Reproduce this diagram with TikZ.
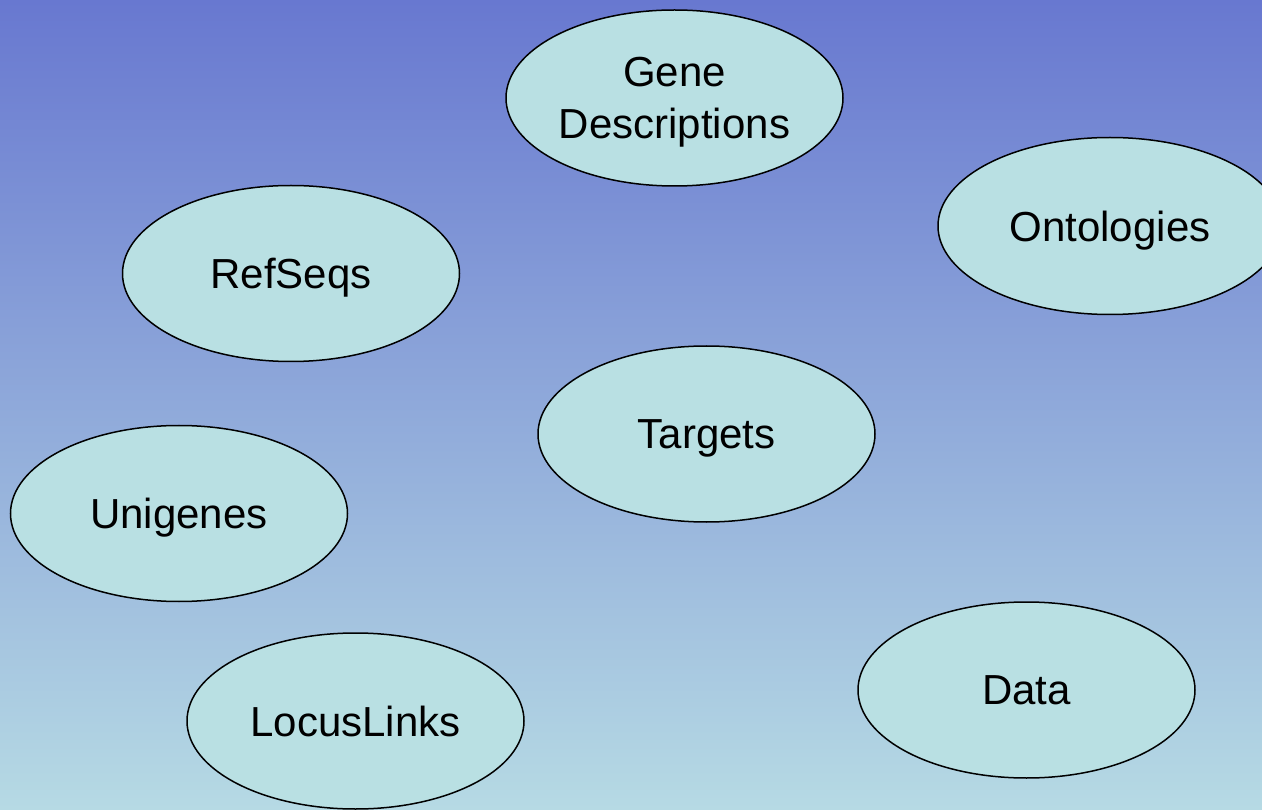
\documentclass[tikz,border=0pt]{standalone}
\usepackage{fontspec}
\setmainfont{Liberation Sans}
\usetikzlibrary{shapes.geometric}
\definecolor{skytop}{RGB}{104,120,208}
\definecolor{skybottom}{RGB}{182,218,228}
\definecolor{bubblefill}{RGB}{185,224,227}
\tikzset{
  bubble/.style={ellipse, draw=black, line width=1.5pt, fill=bubblefill,
    inner sep=0pt, minimum width=337pt, minimum height=176pt,
    text depth=0pt, align=center, font=\fontsize{42}{52}\selectfont},
}
\begin{document}
\begin{tikzpicture}[x=1pt,y=-1pt]
  % backdrop with vertical gradient
  \shade[top color=skytop, bottom color=skybottom] (0,0) rectangle (1262,810);
  \useasboundingbox (0,0) rectangle (1262,810);

  % database bubbles
  \node[bubble] (genedesc) at (674.5,98) {Gene\\Descriptions};
  \node[bubble, minimum width=344pt, minimum height=177pt] (ontologies) at (1110,226) {Ontologies};
  \node[bubble] (refseqs) at (291,273.5) {RefSeqs};
  \node[bubble] (targets) at (706.5,434) {Targets};
  \node[bubble] (unigenes) at (179,513.5) {Unigenes};
  \node[bubble] (locuslinks) at (355.5,721) {LocusLinks};
  \node[bubble] (data) at (1026.5,690) {Data};
\end{tikzpicture}
\end{document}
